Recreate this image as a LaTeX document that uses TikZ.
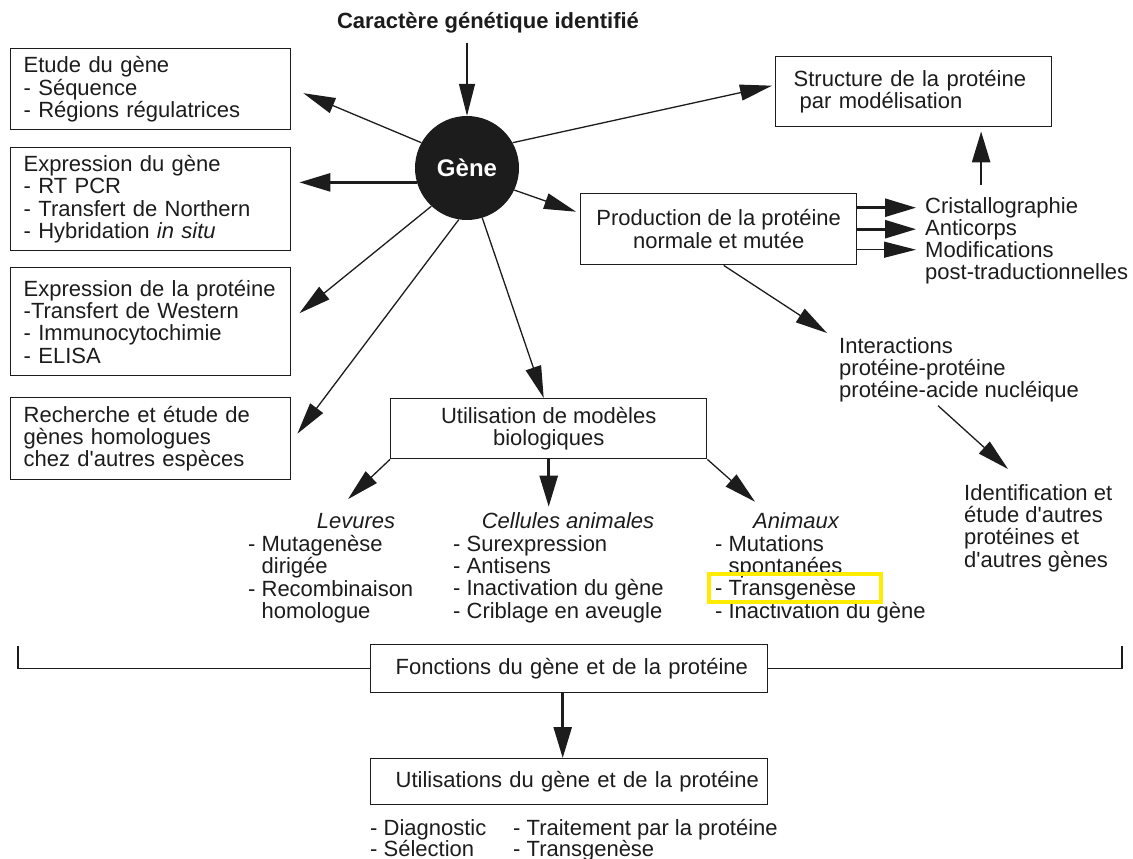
\documentclass[tikz,border=0pt]{standalone}
\usepackage{fontspec}
\setmainfont{Liberation Sans}
\usetikzlibrary{arrows.meta}
\definecolor{ink}{RGB}{28,28,28}
\definecolor{hilite}{RGB}{255,236,0}
\begin{document}
\begin{tikzpicture}[x=1pt,y=-1pt,
  every node/.style={font=\fontsize{22}{22.4}\selectfont, text=ink},
  lbl/.style={inner sep=0pt, align=left, anchor=north west},
  head/.style={inner sep=0pt, font=\fontsize{22}{22.4}\selectfont\itshape},
  box/.style={draw=ink, line width=1.4pt, anchor=north west, inner ysep=0pt},
  lbox/.style={box, align=left, minimum width=280pt, text width=254pt, inner xsep=13pt},
  cbox/.style={box, align=center},
  wbox/.style={box, align=left, minimum width=397pt, text width=397pt, inner xsep=0pt},
  arr/.style={draw=ink, line width=1.3pt, -{Triangle[length=32pt,width=16pt]}},
  thk/.style={draw=ink, line width=2.6pt, -{Triangle[length=31pt,width=18pt]}},
  frame/.style={draw=ink, line width=1.3pt},
]
\useasboundingbox (0,0) rectangle (1133,859);

% central gene and its origin
\node[font=\fontsize{22}{22.4}\selectfont\bfseries, inner sep=0pt] (title) at (488,23) {Caractère génétique identifié};
\node[circle, fill=ink, minimum size=104pt, inner sep=0pt, text=white,
      font=\fontsize{24}{24}\selectfont\bfseries] (gene) at (467,168) {Gène};

% left column of studies
\node[lbox, minimum height=81pt] (etude) at (10,48) {Etude du gène\\- Séquence\\- Régions régulatrices};
\node[lbox, minimum height=103pt] (exprg) at (10,147) {Expression du gène\\- RT PCR\\- Transfert de Northern\\- Hybridation \textit{in situ}};
\node[lbox, minimum height=108pt] (exprp) at (10,267) {Expression de la protéine\\-Transfert de Western\\- Immunocytochimie\\- ELISA};
\node[lbox, minimum height=82pt] (homol) at (10,397) {Recherche et étude de\\gènes homologues\\chez d\textquotesingle autres espèces};

% protein branch
\node[box, align=left, minimum width=276pt, minimum height=70pt, text width=240pt, inner xsep=18pt] (struct) at (775,56)
  {Structure de la protéine\\\hspace*{6pt}par modélisation};
\node[cbox, minimum width=276pt, minimum height=71pt] (prod) at (580,193) {Production de la protéine\\normale et mutée};
\node[lbl] (crist) at (925,197) {Cristallographie};
\node[lbl] (anti) at (925,219) {Anticorps};
\node[lbl] (modif) at (925,241) {Modifications\\post-traductionnelles};
\node[lbl] (inter) at (839,337) {Interactions\\protéine-protéine\\protéine-acide nucléique};
\node[lbl] (ident) at (964,484) {Identification et\\étude d\textquotesingle autres\\protéines et\\d\textquotesingle autres gènes};

% biological models
\node[cbox, minimum width=316pt, minimum height=60pt] (utili) at (390,398) {Utilisation de modèles\\biologiques};
\node[head] (lev) at (356,521) {Levures};
\node[lbl] (levi) at (248,535) {- Mutagenèse\\\phantom{- }dirigée\\- Recombinaison\\\phantom{- }homologue};
\node[head] (cell) at (568,521) {Cellules animales};
\node[lbl] (celli) at (453,535) {- Surexpression\\- Antisens\\- Inactivation du gène\\- Criblage en aveugle};
\node[head] (anim) at (796,521) {Animaux};
\node[lbl] (animi) at (715,535) {- Mutations\\\phantom{- }spontanées\\- Transgenèse\\- Inactivation du gène};
\draw[draw=hilite, line width=4.5pt] (709,574) rectangle (881,602);

% functions and uses
\node[wbox, minimum height=48pt] (fonc) at (370,644) {\hspace*{25pt}Fonctions du gène et de la protéine};
\node[wbox, minimum height=46pt] (usage) at (370,758) {\hspace*{25pt}Utilisations du gène et de la protéine};
\node[lbl, font=\fontsize{22}{21}\selectfont] (uses1) at (370,819) {- Diagnostic\\- Sélection};
\node[lbl, font=\fontsize{22}{21}\selectfont] (uses2) at (513,819) {- Traitement par la protéine\\- Transgenèse};

% connectors from the gene
\path (gene.north |- title.south) coordinate (t0);
\coordinate (t1) at ([yshift=-9pt]t0);
\draw[arr] (t1) -- (gene.north);
\draw[arr] (gene.151) -- ([shift={(12,4)}]etude.east);
\draw[thk, shorten >=8pt] (gene.196) -- (gene.196 -| exprg.east);
\draw[arr] (gene.227) -- ([shift={(8,-8.5)}]exprp.east);
\draw[arr] (gene.261) -- ([shift={(6,-5)}]homol.east);
\draw[arr] (gene.287) -- ([xshift=-5pt]utili.north);
\draw[arr] (gene.29) -- ([shift={(-3,-6)}]struct.west);
\draw[arr] (gene.335) -- ([shift={(-4,-17.5)}]prod.west);

% connectors of the protein branch
\coordinate (s1) at ([yshift=21.5pt]prod.east);
\coordinate (s2) at (prod.east);
\coordinate (s3) at ([yshift=-20.5pt]prod.east);
\draw[thk, shorten >=9pt] (s1) -- (s1 -| crist.west);
\draw[thk, shorten >=9pt] (s2) -- (s2 -| anti.west);
\draw[arr, shorten >=9pt] (s3) -- (s3 -| modif.west);
\coordinate (c1) at ([shift={(-20.5,-12)}]crist.north);
\draw[thk, shorten >=4pt] (c1) -- (c1 |- struct.south);
\draw[arr] ([xshift=5pt]prod.south) -- ([shift={(-12,-4)}]inter.north west);
\draw[arr] ([shift={(-21,3)}]inter.south) -- ([shift={(44,-15)}]ident.north west);

% connectors of the models
\draw[arr] (utili.south west) -- ([shift={(-8,-14)}]lev.north);
\draw[thk, shorten >=6pt] (utili.south) -- (utili.south |- cell.north);
\draw[arr] (utili.south east) -- ([shift={(-41,-11)}]anim.north);

% bracket gathering all studies, and the final step
\coordinate (bl) at (18,646);
\coordinate (br) at (1122,646);
\draw[frame] (fonc.west) -| (bl);
\draw[frame] (fonc.east) -| (br);
\coordinate (f1) at ([xshift=-6.5pt]fonc.south);
\draw[thk] (f1) -- (f1 |- usage.north);
\end{tikzpicture}
\end{document}
